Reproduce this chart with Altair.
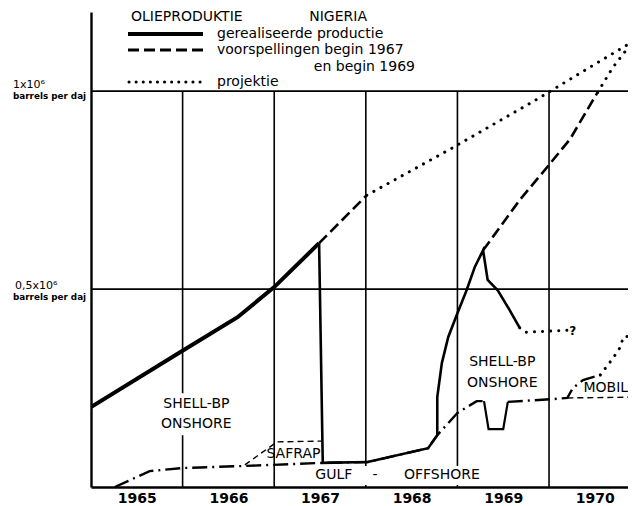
import altair as alt
import pandas as pd

# ---------------- data (decimal years, million barrels per day) ----------------
grid_years = [1966, 1967, 1968, 1969, 1970]
grid_levels = [0.5, 1.0]
year_label_pos = [1965.5, 1966.5, 1967.5, 1968.5, 1969.5, 1970.5]

shell_pre_year = [1965.00, 1965.99, 1966.60, 1967.00, 1967.49]
shell_pre_val = [0.202, 0.343, 0.429, 0.505, 0.616]

shell_post_year = [1967.49, 1967.53, 1968.02, 1968.68, 1968.78, 1968.78, 1968.83, 1968.90,
                   1969.00, 1969.10, 1969.19, 1969.28, 1969.33, 1969.44, 1969.57, 1969.68]
shell_post_val = [0.616, 0.061, 0.063, 0.098, 0.131, 0.227, 0.313, 0.379,
                  0.439, 0.497, 0.556, 0.598, 0.523, 0.497, 0.447, 0.402]

shell_proj_year = [1969.68, 1969.74, 1970.20]
shell_proj_val = [0.402, 0.391, 0.396]

forecast67_year = [1967.49, 1968.01]
forecast67_val = [0.616, 0.737]
projection67_year = [1968.01, 1968.94, 1969.85, 1970.50, 1970.94]
projection67_val = [0.737, 0.856, 0.977, 1.068, 1.129]

forecast69_year = [1969.28, 1969.68, 1969.99, 1970.23, 1970.53]
forecast69_val = [0.598, 0.725, 0.811, 0.879, 0.997]
projection69_year = [1970.53, 1970.70, 1970.85, 1970.94]
projection69_val = [0.997, 1.061, 1.106, 1.129]

gulf_year = [1965.26, 1965.64, 1966.00, 1966.66, 1967.53, 1968.02, 1968.68, 1968.78,
             1969.00, 1969.21, 1969.29]
gulf_val = [0.0, 0.040, 0.048, 0.053, 0.061, 0.063, 0.098, 0.131, 0.187, 0.217, 0.217]
gulf_dip_year = [1969.29, 1969.34, 1969.50, 1969.55]
gulf_dip_val = [0.217, 0.146, 0.146, 0.215]
gulf2_year = [1969.55, 1970.04, 1970.20, 1970.26, 1970.37, 1970.56]
gulf2_val = [0.215, 0.222, 0.225, 0.250, 0.270, 0.283]
mobil_proj_year = [1970.56, 1970.70, 1970.78, 1970.81, 1970.95]
mobil_proj_val = [0.283, 0.326, 0.354, 0.379, 0.384]
mobil_year = [1970.20, 1970.95]
mobil_val = [0.225, 0.227]
safrap_year = [1966.68, 1967.03, 1967.53]
safrap_val = [0.056, 0.114, 0.116]

# annotation labels
area_labels = ["SHELL-BP", "ONSHORE", "SHELL-BP", "ONSHORE", "SAFRAP", "GULF", "-", "OFFSHORE", "MOBIL"]
area_label_year = [1966.15, 1966.15, 1969.49, 1969.49, 1967.21, 1967.65, 1968.10, 1968.83, 1970.62]
area_label_val = [0.210, 0.159, 0.316, 0.263, 0.083, 0.030, 0.030, 0.030, 0.250]
question_year = [1970.26]
question_val = [0.394]
question_text = ["?"]

title_words = ["OLIEPRODUKTIE", "NIGERIA"]
legend_texts = ["gerealiseerde productie", "voorspellingen begin 1967", "en begin 1969", "projektie"]
ylabel_top = ["1x10⁶", "0,5x10⁶"]
ylabel_bottom = ["barrels per daj", "barrels per daj"]
ylabel_vals = [1.0, 0.5]

# white boxes behind labels (gridlines are interrupted there)
box_x1 = [1965.70, 1967.34]
box_x2 = [1966.60, 1969.43]
box_y1 = [0.131, 0.005]
box_y2 = [0.237, 0.053]

# ---------------- scales / axes ----------------
FONT = "DejaVu Sans"
xscale = alt.Scale(domain=[1965, 1970.862], nice=False, zero=False)
yscale = alt.Scale(domain=[0, 1.2], nice=False, zero=True)
xaxis = alt.Axis(values=year_label_pos, labelExpr="'' + floor(datum.value)", ticks=False,
                 grid=False, domainColor="black", domainWidth=2.5, labelFontSize=14,
                 labelFont=FONT, labelFontWeight="bold", labelColor="black",
                 labelPadding=4, title=None, labelFlush=False)
yaxis = alt.Axis(labels=False, ticks=False, grid=False, domainColor="black",
                 domainWidth=2.4, title=None)


def X(field="year"):
    return alt.X(f"{field}:Q", scale=xscale, axis=xaxis, title=None)


def Y(field="value"):
    return alt.Y(f"{field}:Q", scale=yscale, axis=yaxis, title=None)


def line(years, vals, **kw):
    df = pd.DataFrame({"year": years, "value": vals, "i": list(range(len(years)))})
    return alt.Chart(df).mark_line(clip=True, color="black", **kw).encode(
        x=X(), y=Y(), order="i:Q")


layers = []

# gridlines
vgrid = pd.DataFrame({"year": grid_years, "y0": [0.0] * len(grid_years),
                      "y1": [1.0] * len(grid_years)})
layers.append(alt.Chart(vgrid).mark_rule(color="black", strokeWidth=1.6).encode(
    x=X(), y=Y("y0"), y2="y1:Q"))
hgrid = pd.DataFrame({"value": grid_levels})
layers.append(alt.Chart(hgrid).mark_rule(color="black", strokeWidth=1.6).encode(y=Y()))

# white boxes
boxes = pd.DataFrame({"year": box_x1, "x2": box_x2, "value": box_y1, "v2": box_y2})
layers.append(alt.Chart(boxes).mark_rect(color="white").encode(
    x=X(), x2="x2:Q", y=Y(), y2="v2:Q"))

DASH = [11, 5]
DOT = [0.1, 8]
DASHDOT = [15, 5, 2, 5]
THIN_DASH = [6, 4]

layers.append(line(safrap_year, safrap_val, strokeWidth=1.4, strokeDash=THIN_DASH))
layers.append(line(mobil_year, mobil_val, strokeWidth=1.4, strokeDash=THIN_DASH))
layers.append(line(gulf_year, gulf_val, strokeWidth=2.4, strokeDash=DASHDOT))
layers.append(line(gulf_dip_year, gulf_dip_val, strokeWidth=2.2))
layers.append(line(gulf2_year, gulf2_val, strokeWidth=2.4, strokeDash=DASHDOT))
layers.append(line(mobil_proj_year, mobil_proj_val, strokeWidth=3, strokeDash=DOT, strokeCap="round"))
layers.append(line(shell_pre_year, shell_pre_val, strokeWidth=4))
layers.append(line(shell_post_year, shell_post_val, strokeWidth=2.6))
layers.append(line(shell_proj_year, shell_proj_val, strokeWidth=3, strokeDash=DOT, strokeCap="round"))
layers.append(line(forecast67_year, forecast67_val, strokeWidth=2.6, strokeDash=DASH))
layers.append(line(projection67_year, projection67_val, strokeWidth=3, strokeDash=DOT, strokeCap="round"))
layers.append(line(forecast69_year, forecast69_val, strokeWidth=2.6, strokeDash=DASH))
layers.append(line(projection69_year, projection69_val, strokeWidth=3, strokeDash=DOT, strokeCap="round"))

# area labels
lab = pd.DataFrame({"year": area_label_year, "value": area_label_val, "t": area_labels})
layers.append(alt.Chart(lab).mark_text(font=FONT, fontSize=14, color="black",
                                       baseline="middle", align="center").encode(
    x=X(), y=Y(), text="t:N"))
q = pd.DataFrame({"year": question_year, "value": question_val, "t": question_text})
layers.append(alt.Chart(q).mark_text(font=FONT, fontSize=12, fontWeight="bold", color="black",
                                     baseline="middle", align="center").encode(
    x=X(), y=Y(), text="t:N"))

# y labels (left of axis)
yl = pd.DataFrame({"value": ylabel_vals, "t": ylabel_top, "b": ylabel_bottom})
layers.append(alt.Chart(yl.iloc[[0]]).mark_text(font=FONT, fontSize=11, color="black",
                                                 align="left", baseline="middle", dy=-6).encode(
    x=alt.value(-78), y=Y(), text="t:N"))
layers.append(alt.Chart(yl.iloc[[0]]).mark_text(font=FONT, fontSize=8.8, fontWeight="bold",
                                                 color="black", align="left", baseline="middle",
                                                 dy=5).encode(
    x=alt.value(-78), y=Y(), text="b:N"))
layers.append(alt.Chart(yl.iloc[[1]]).mark_text(font=FONT, fontSize=11, color="black",
                                                 align="left", baseline="middle", dy=-3).encode(
    x=alt.value(-76), y=Y(), text="t:N"))
layers.append(alt.Chart(yl.iloc[[1]]).mark_text(font=FONT, fontSize=8.8, fontWeight="bold",
                                                 color="black", align="left", baseline="middle",
                                                 dy=8).encode(
    x=alt.value(-78), y=Y(), text="b:N"))

# legend (drawn in the top-left of the plot)
one = pd.DataFrame({"a": [0]})
layers.append(alt.Chart(one).mark_text(font=FONT, fontSize=14, color="black", align="left",
                                       baseline="middle", text=title_words[0]).encode(
    x=alt.value(40), y=alt.value(5)))
layers.append(alt.Chart(one).mark_text(font=FONT, fontSize=14, color="black", align="right",
                                       baseline="middle", text=title_words[1]).encode(
    x=alt.value(276), y=alt.value(5)))
layers.append(alt.Chart(one).mark_rule(color="black", strokeWidth=4).encode(
    x=alt.value(37), x2=alt.value(112), y=alt.value(22)))
layers.append(alt.Chart(one).mark_rule(color="black", strokeWidth=3, strokeDash=DASH).encode(
    x=alt.value(37), x2=alt.value(112), y=alt.value(38)))
layers.append(alt.Chart(one).mark_rule(color="black", strokeWidth=3, strokeDash=[0.1, 7],
                                       strokeCap="round").encode(
    x=alt.value(38), x2=alt.value(112), y=alt.value(70)))
leg_y = [22, 38, 55, 70]
for k, t in enumerate(legend_texts):
    if k == 2:
        layers.append(alt.Chart(one).mark_text(font=FONT, fontSize=14, color="black",
                                               align="right", baseline="middle", text=t).encode(
            x=alt.value(324), y=alt.value(leg_y[k])))
    else:
        layers.append(alt.Chart(one).mark_text(font=FONT, fontSize=14, color="black",
                                               align="left", baseline="middle", text=t).encode(
            x=alt.value(126), y=alt.value(leg_y[k])))

chart = alt.layer(*layers).properties(
    width=537, height=475,
    autosize=alt.AutoSizeParams(type="none"),
    padding={"left": 83, "top": 4, "right": 0, "bottom": 19},
    background="white",
).configure_view(stroke=None)

chart.save("out.html", embed_options={"renderer": "svg", "actions": False})
